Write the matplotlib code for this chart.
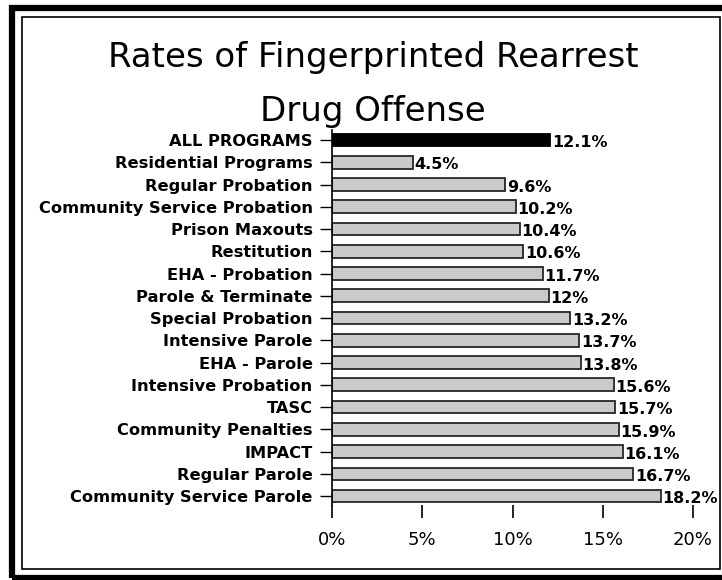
import matplotlib
matplotlib.use("Agg")
import matplotlib.pyplot as plt
from matplotlib.patches import Rectangle

programs = [
    "ALL PROGRAMS", "Residential Programs", "Regular Probation",
    "Community Service Probation", "Prison Maxouts", "Restitution",
    "EHA - Probation", "Parole & Terminate", "Special Probation",
    "Intensive Parole", "EHA - Parole", "Intensive Probation", "TASC",
    "Community Penalties", "IMPACT", "Regular Parole",
    "Community Service Parole",
]
rates = [12.1, 4.5, 9.6, 10.2, 10.4, 10.6, 11.7, 12, 13.2, 13.7, 13.8,
         15.6, 15.7, 15.9, 16.1, 16.7, 18.2]
value_labels = ["12.1%", "4.5%", "9.6%", "10.2%", "10.4%", "10.6%", "11.7%",
                "12%", "13.2%", "13.7%", "13.8%", "15.6%", "15.7%", "15.9%",
                "16.1%", "16.7%", "18.2%"]
x_ticks = [0, 5, 10, 15, 20]
x_tick_labels = ["0%", "5%", "10%", "15%", "20%"]

W, H = 722, 580
FONT = "DejaVu Sans"
fig = plt.figure(figsize=(W / 100, H / 100), dpi=100)
fig.patch.set_facecolor("white")


def px_rect(x0, y0, x1, y1, lw):
    """Rectangle given in pixel coordinates measured from the top-left."""
    fig.add_artist(Rectangle((x0 / W, 1 - y1 / H), (x1 - x0) / W, (y1 - y0) / H,
                             transform=fig.transFigure, fill=False,
                             edgecolor="black", linewidth=lw))


# double frame around the chart
px_rect(11.5, 7.5, 730, 578, 4.5)
px_rect(22, 16.5, 719.5, 569, 1.2)

fig.text(373 / W, 1 - 67 / H, "Rates of Fingerprinted Rearrest",
         ha="center", va="baseline", fontsize=24.5, family=FONT)
fig.text(373 / W, 1 - 121 / H, "Drug Offense",
         ha="center", va="baseline", fontsize=24.5, family=FONT)

ax = fig.add_axes([332 / W, 1 - 505 / H, 361 / W, 375 / H])
n = len(programs)
pos = list(range(n))
colors = ["black"] + ["#cacaca"] * (n - 1)
edges = ["black"] + ["#262626"] * (n - 1)
ax.barh(pos, rates, height=0.57, color=colors, edgecolor=edges, linewidth=1.3)

for p, r, lab in zip(pos, rates, value_labels):
    ax.text(r + 0.08, p + 0.12, lab, ha="left", va="center", fontsize=11.5,
            fontweight="bold", family=FONT)

ax.set_xlim(0, 20)
ax.set_ylim(16.4, -0.45)
ax.set_yticks(pos)
ax.set_yticklabels(programs, fontsize=11.7, fontweight="bold", family=FONT)
ax.set_xticks(x_ticks)
ax.set_xticklabels(x_tick_labels, fontsize=13, family=FONT)
ax.tick_params(axis="y", direction="out", length=8.5, width=1, pad=5.5)
ax.tick_params(axis="x", direction="out", length=9, width=1.2, pad=10)
for s in ["top", "right", "bottom"]:
    ax.spines[s].set_visible(False)
ax.spines["left"].set_linewidth(1.2)
ax.set_facecolor("white")

fig.savefig("out.png", dpi=100, facecolor="white")
